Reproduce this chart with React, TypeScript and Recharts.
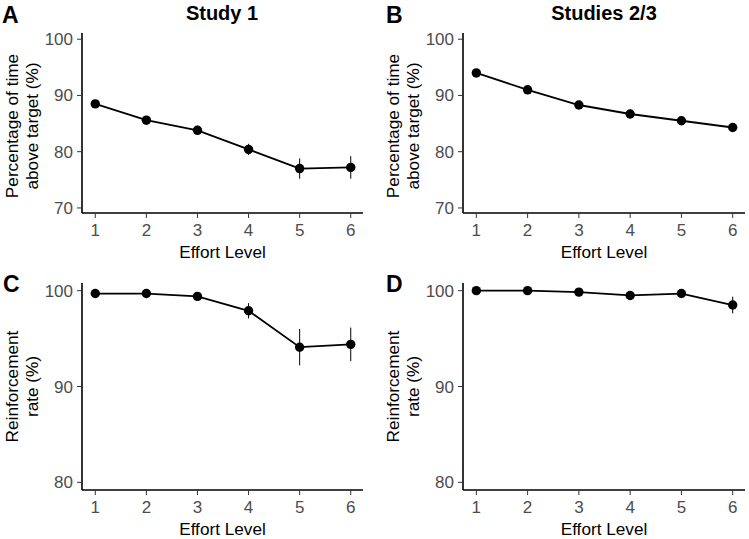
import React from 'react';
import { LineChart, Line, XAxis, YAxis, ErrorBar } from 'recharts';

const effortLevels = [1, 2, 3, 4, 5, 6];
const xTicks = [1, 2, 3, 4, 5, 6];

// Panel A - Study 1, percentage of time above target
const study1Time = [88.5, 85.6, 83.8, 80.4, 77.0, 77.2];
const study1TimeErr = [0.3, 0.5, 0.8, 1.0, 1.8, 2.0];
// Panel B - Studies 2/3, percentage of time above target
const study23Time = [94.0, 91.0, 88.3, 86.7, 85.5, 84.3];
const study23TimeErr = [0.3, 0.3, 0.4, 0.4, 0.5, 0.8];
// Panel C - Study 1, reinforcement rate
const study1Reinf = [99.7, 99.7, 99.4, 97.9, 94.1, 94.4];
const study1ReinfErr = [0.1, 0.1, 0.3, 0.8, 1.9, 1.75];
// Panel D - Studies 2/3, reinforcement rate
const study23Reinf = [100.0, 100.0, 99.85, 99.5, 99.7, 98.5];
const study23ReinfErr = [0.05, 0.05, 0.2, 0.3, 0.25, 0.87];

const timeTicks = [70, 80, 90, 100];
const reinfTicks = [80, 90, 100];

const FONT = '"Liberation Sans", Arial, Helvetica, sans-serif';

const build = (values: number[], errs: number[]) =>
  effortLevels.map((level, i) => ({ level, value: values[i], err: errs[i] }));

interface PanelProps {
  left: number;
  top: number;
  width: number;
  height: number;
  yAxisWidth: number;
  rightMargin: number;
  topMargin: number;
  xAxisHeight: number;
  yDomain: [number, number];
  yTicks: number[];
  yLabel: string[];
  labelShift: number;
  data: { level: number; value: number; err: number }[];
}

const Panel: React.FC<PanelProps> = (p) => {
  const YLabel = (props: any) => {
    const vb = props.viewBox;
    const cy = vb.y + vb.height / 2 + p.labelShift;
    const xs = [vb.x + vb.width - 70, vb.x + vb.width - 50];
    return (
      <g>
        {p.yLabel.map((line, i) => (
          <text
            key={i}
            x={xs[i]}
            y={cy}
            textAnchor="middle"
            dominantBaseline="central"
            transform={`rotate(-90, ${xs[i]}, ${cy})`}
            fontSize={17.2}
            fontFamily={FONT}
            fill="#000"
          >
            {line}
          </text>
        ))}
      </g>
    );
  };

  const XLabel = (props: any) => {
    const vb = props.viewBox;
    return (
      <text
        x={vb.x + vb.width / 2}
        y={vb.y + 44.5}
        textAnchor="middle"
        fontSize={17.2}
        fontFamily={FONT}
        fill="#000"
      >
        Effort Level
      </text>
    );
  };

  return (
    <div style={{ position: 'absolute', left: p.left, top: p.top }}>
      <LineChart
        width={p.width}
        height={p.height}
        data={p.data}
        margin={{ top: p.topMargin, right: p.rightMargin, bottom: 0, left: 0 }}
      >
        <XAxis
          type="number"
          dataKey="level"
          domain={[0.74, 6.24]}
          ticks={xTicks}
          allowDataOverflow
          height={p.xAxisHeight}
          axisLine={{ stroke: '#000', strokeWidth: 1.6 }}
          tickLine={{ stroke: '#333', strokeWidth: 1 }}
          tickSize={5}
          tickMargin={6}
          tick={{ fill: '#4d4d4d', fontSize: 17, fontFamily: FONT }}
          label={{ content: <XLabel /> }}
        />
        <YAxis
          type="number"
          domain={p.yDomain}
          ticks={p.yTicks}
          allowDataOverflow
          width={p.yAxisWidth}
          axisLine={{ stroke: '#000', strokeWidth: 1.6 }}
          tickLine={{ stroke: '#333', strokeWidth: 1 }}
          tickSize={5}
          tickMargin={4}
          tick={{ fill: '#4d4d4d', fontSize: 17, fontFamily: FONT }}
          label={{ content: <YLabel /> }}
        />
        <Line
          type="linear"
          dataKey="value"
          stroke="#000"
          strokeWidth={1.8}
          dot={{ r: 4.7, fill: '#000', stroke: '#000', strokeWidth: 0 }}
          isAnimationActive={false}
        >
          <ErrorBar dataKey="err" direction="y" width={0} stroke="#000" strokeWidth={1} />
        </Line>
      </LineChart>
    </div>
  );
};

export default function App() {
  return (
    <div
      style={{
        position: 'absolute',
        left: 0,
        top: 0,
        width: 749,
        height: 539,
        background: '#fff',
        fontFamily: FONT,
      }}
    >
      <Panel
        left={0}
        top={0}
        width={375}
        height={270}
        yAxisWidth={82}
        rightMargin={12}
        topMargin={33}
        xAxisHeight={57}
        yDomain={[69.1, 101.1]}
        yTicks={timeTicks}
        yLabel={['Percentage of time', 'above target (%)']}
        labelShift={3}
        data={build(study1Time, study1TimeErr)}
      />
      <Panel
        left={375}
        top={0}
        width={374}
        height={270}
        yAxisWidth={88}
        rightMargin={4}
        topMargin={33}
        xAxisHeight={57}
        yDomain={[69.1, 101.1]}
        yTicks={timeTicks}
        yLabel={['Percentage of time', 'above target (%)']}
        labelShift={3}
        data={build(study23Time, study23TimeErr)}
      />
      <Panel
        left={0}
        top={270}
        width={375}
        height={269}
        yAxisWidth={82}
        rightMargin={12}
        topMargin={13}
        xAxisHeight={49}
        yDomain={[79.2, 100.8]}
        yTicks={reinfTicks}
        yLabel={['Reinforcement', 'rate (%)']}
        labelShift={0}
        data={build(study1Reinf, study1ReinfErr)}
      />
      <Panel
        left={375}
        top={270}
        width={374}
        height={269}
        yAxisWidth={88}
        rightMargin={4}
        topMargin={13}
        xAxisHeight={49}
        yDomain={[79.2, 100.8]}
        yTicks={reinfTicks}
        yLabel={['Reinforcement', 'rate (%)']}
        labelShift={0}
        data={build(study23Reinf, study23ReinfErr)}
      />
      <svg
        width={749}
        height={539}
        style={{ position: 'absolute', left: 0, top: 0, pointerEvents: 'none' }}
      >
        <g fontFamily={FONT} fontWeight="bold" fill="#000">
          <text x={2} y={23} fontSize={23}>A</text>
          <text x={386} y={23} fontSize={23}>B</text>
          <text x={3} y={292} fontSize={23}>C</text>
          <text x={386} y={292} fontSize={23}>D</text>
          <text x={222} y={20} fontSize={20}>
            <tspan textAnchor="middle">Study 1</tspan>
          </text>
          <text x={604} y={20} fontSize={20} textAnchor="middle">Studies 2/3</text>
        </g>
      </svg>
    </div>
  );
}
